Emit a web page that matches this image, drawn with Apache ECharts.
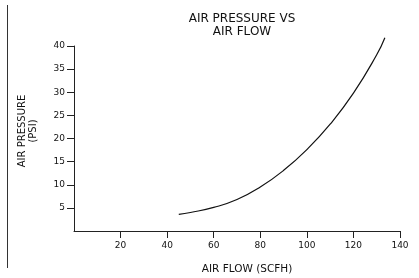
<!DOCTYPE html>
<html>
<head>
<meta charset="utf-8">
<script src="https://cdn.jsdelivr.net/npm/echarts@6/dist/echarts.min.js"></script>
<style>
  html, body { margin: 0; padding: 0; background: #fff; }
  #chart { width: 419px; height: 278px; }
</style>
</head>
<body>
<div id="chart"></div>
<script>
// air flow (SCFH) and air pressure (PSI)
const airFlow = [45, 50, 60, 70, 80, 90, 100, 110, 120, 130, 133.5];
const airPressure = [3.6, 4.0, 5.1, 6.8, 9.5, 13.1, 17.6, 23.1, 29.8, 38.1, 41.8];
const xTicks = [20, 40, 60, 80, 100, 120, 140];
const yTicks = [5, 10, 15, 20, 25, 30, 35, 40];

const chart = echarts.init(document.getElementById('chart'));
const font = 'DejaVu Sans';

chart.setOption({
    animation: false,
    title: {
        text: 'AIR PRESSURE VS\nAIR FLOW',
        left: 237,
        top: 7,
        textAlign: 'center',
        textStyle: { fontFamily: font, fontWeight: 'normal', fontSize: 12, color: '#111', lineHeight: 13, align: 'center' }
    },
    grid: { left: 74, right: 19, top: 46, bottom: 47, outerBoundsMode: 'none' },
    xAxis: {
        type: 'value',
        min: 0, max: 140, interval: 20,
        name: 'AIR FLOW (SCFH)',
        nameLocation: 'middle',
        nameGap: 33,
        nameTextStyle: { fontFamily: font, fontSize: 10.5, color: '#111', padding: [0, 0, 0, 20] },
        axisLine: { lineStyle: { color: '#222', width: 1 } },
        axisTick: { length: 7, customValues: xTicks, lineStyle: { color: '#222' } },
        splitLine: { show: false },
        axisLabel: { fontFamily: font, fontSize: 9, color: '#111', margin: 10, customValues: xTicks }
    },
    yAxis: {
        type: 'value',
        min: 0, max: 40, interval: 5,
        name: 'AIR PRESSURE\n(PSI)',
        nameLocation: 'middle',
        nameGap: 35,
        nameRotate: 90,
        nameTextStyle: { fontFamily: font, fontSize: 10, color: '#111', lineHeight: 11, align: 'center', padding: [0, 0, 0, 15] },
        axisLine: { show: true, lineStyle: { color: '#222', width: 1 } },
        axisTick: { show: true, length: 7, customValues: yTicks, lineStyle: { color: '#222' } },
        splitLine: { show: false },
        axisLabel: { fontFamily: font, fontSize: 9, color: '#111', margin: 9, customValues: yTicks }
    },
    series: [{
        type: 'line',
        data: airFlow.map((x, i) => [x, airPressure[i]]),
        smooth: 0.5,
        clip: false,
        showSymbol: false,
        lineStyle: { color: '#111', width: 1.2 }
    }],
    graphic: [{
        type: 'line',
        shape: { x1: 7.5, y1: 5, x2: 7.5, y2: 268 },
        style: { stroke: '#333', lineWidth: 1 }
    }]
});
</script>
</body>
</html>
